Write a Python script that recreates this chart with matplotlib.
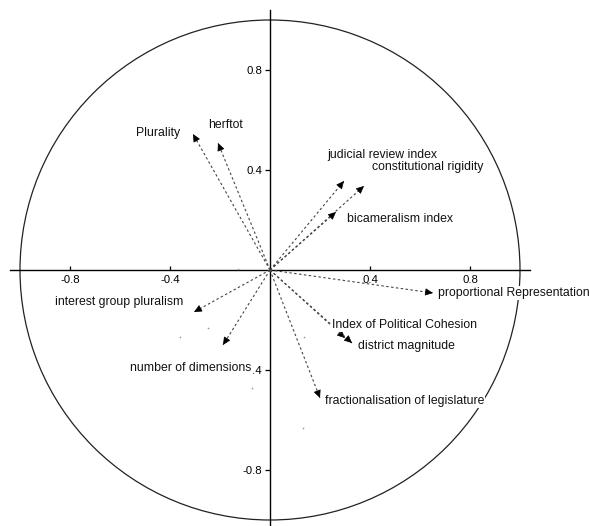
import numpy as np
import matplotlib
matplotlib.use("Agg")
import matplotlib.pyplot as plt
from matplotlib.patches import Circle

plt.rcParams["font.family"] = ["Liberation Sans", "DejaVu Sans"]

# variable loadings on the first two axes (arrow tips)
names = ["Plurality", "herftot", "judicial review index", "constitutional rigidity",
         "bicameralism index", "proportional Representation",
         "Index of Political Cohesion", "district magnitude",
         "fractionalisation of legislature", "interest group pluralism",
         "number of dimensions"]
load_x = [-0.308, -0.208, 0.296, 0.376, 0.264, 0.652, 0.300, 0.328, 0.200, -0.304, -0.188]
load_y = [0.544, 0.508, 0.356, 0.336, 0.232, -0.092, -0.272, -0.292, -0.512, -0.168, -0.300]

# where each label sits (left/right anchor)
lab_x = [-0.36, -0.248, 0.228, 0.408, 0.308, 0.672, 0.248, 0.352, 0.22, -0.86, -0.56]
lab_y = [0.548, 0.58, 0.46, 0.412, 0.204, -0.092, -0.22, -0.304, -0.524, -0.128, -0.392]
lab_ha = ["right", "left", "left", "left", "left", "left", "left", "left", "left",
          "left", "left"]

# faint stray points
pts_x = [-0.248, -0.36, -0.072, 0.132, 0.136, -0.128]
pts_y = [-0.232, -0.268, -0.472, -0.632, -0.268, 0.004]

ticks = [-0.8, -0.4, 0.4, 0.8]
tick_labels = ["-0.8", "-0.4", "0.4", "0.8"]

fig = plt.figure(figsize=(5.89, 5.26), dpi=100)
ax = fig.add_axes([0, 0, 1, 1])
ax.set_xlim(-1.08, 1.276)
ax.set_ylim(-1.024, 1.08)

ax.add_patch(Circle((0, 0), 1.0, fill=False, ec="#222222", lw=0.9, zorder=1))

for x, y in zip(load_x, load_y):
    ax.plot([0, x], [0, y], ls=(0, (2.2, 2.2)), color="#444444", lw=0.8, zorder=2)
    d = np.array([x, y]) / np.hypot(x, y)
    ax.annotate("", xy=(x, y), xytext=(x - 0.01 * d[0], y - 0.01 * d[1]),
                arrowprops=dict(arrowstyle="-|>,head_length=0.6,head_width=0.28",
                                color="black", lw=0.5, shrinkA=0, shrinkB=0,
                                mutation_scale=8), zorder=2)

ax.plot(pts_x, pts_y, "o", ms=1.2, color="#999999", mec="none", zorder=2)

for n, x, y, ha in zip(names, lab_x, lab_y, lab_ha):
    ax.text(x, y, n, ha=ha, va="center", fontsize=8.8, color="#111111", zorder=5,
            bbox=dict(facecolor="white", edgecolor="none", pad=0.6))

for s in ["top", "right"]:
    ax.spines[s].set_visible(False)
ax.spines["left"].set_position(("data", 0))
ax.spines["bottom"].set_position(("data", 0))
ax.spines["bottom"].set_bounds(-1.04, 1.04)
ax.spines["left"].set_bounds(-1.024, 1.04)
for s in ["left", "bottom"]:
    ax.spines[s].set_linewidth(1.0)
    ax.spines[s].set_zorder(1.5)

ax.set_xticks(ticks)
ax.set_xticklabels(tick_labels)
ax.set_yticks(ticks)
ax.set_yticklabels(tick_labels)
ax.tick_params(axis="x", direction="in", length=3, width=0.9, pad=3.5, labelsize=8.2)
ax.tick_params(axis="y", direction="out", length=3.6, width=0.9, pad=2, labelsize=8.2)
ax.patch.set_visible(False)

fig.savefig("out.png", dpi=100)
